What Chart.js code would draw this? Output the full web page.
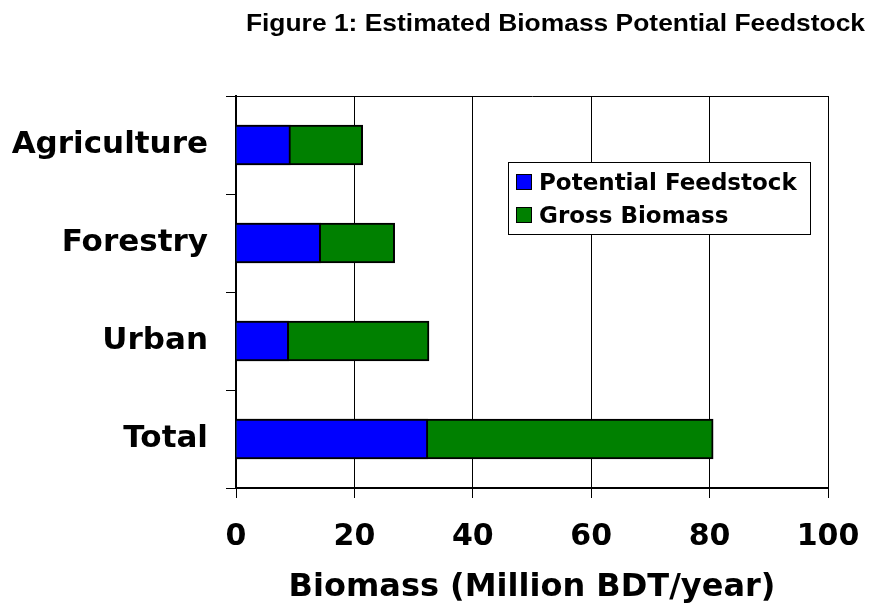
<!DOCTYPE html>
<html>
<head>
<meta charset="utf-8">
<script src="https://cdn.jsdelivr.net/npm/chart.js@4.4.0/dist/chart.umd.min.js"></script>
<style>
  html, body { margin: 0; padding: 0; background: #fff; }
  #wrap { width: 871px; height: 604px; }
</style>
</head>
<body>
<div id="wrap"><canvas id="biomassChart"></canvas></div>
<script>
// values (Million BDT/year)
const categories = ['Agriculture', 'Forestry', 'Urban', 'Total'];
const potentialFeedstock = [9.2, 14.3, 8.9, 32.4];
const grossBiomass = [21.4, 26.8, 32.6, 80.6];
const xTicks = [0, 20, 40, 60, 80, 100];

const labelFont = '"DejaVu Sans", Verdana, sans-serif';

// title + boxed legend drawn by hand so they sit where the original has them
const titleAndLegend = {
  id: 'titleAndLegend',
  afterDraw(chart) {
    const ctx = chart.ctx;
    ctx.save();
    ctx.fillStyle = '#000';
    ctx.font = 'bold 24px "Liberation Sans", Arial, sans-serif';
    ctx.textAlign = 'right';
    ctx.textBaseline = 'alphabetic';
    ctx.scale(1.1, 1);
    ctx.fillText('Figure 1: Estimated Biomass Potential Feedstock', 865 / 1.1, 31);
    ctx.restore();

    ctx.save();
    ctx.fillStyle = '#fff';
    ctx.fillRect(508, 162, 302, 72);
    ctx.strokeStyle = '#000';
    ctx.lineWidth = 1;
    ctx.strokeRect(508.5, 162.5, 302, 72);
    ctx.font = 'bold 23px ' + labelFont;
    ctx.textAlign = 'left';
    chart.data.datasets.forEach((ds, i) => {
      const y = 174 + i * 33;
      ctx.fillStyle = ds.backgroundColor;
      ctx.fillRect(516, y, 16, 16);
      ctx.strokeRect(516.5, y + 0.5, 15, 15);
      ctx.fillStyle = '#000';
      ctx.fillText(ds.label, 539, y + 16);
    });
    ctx.restore();
  }
};

new Chart(document.getElementById('biomassChart'), {
  type: 'bar',
  data: {
    labels: categories,
    datasets: [
      {
        label: 'Potential Feedstock',
        data: potentialFeedstock,
        backgroundColor: '#0000ff',
        borderColor: '#000',
        borderWidth: 2,
        barThickness: 40
      },
      {
        label: 'Gross Biomass',
        data: grossBiomass,
        backgroundColor: '#008000',
        borderColor: '#000',
        borderWidth: 2,
        barThickness: 40
      }
    ]
  },
  options: {
    indexAxis: 'y',
    responsive: true,
    maintainAspectRatio: false,
    animation: false,
    layout: { padding: { top: 96, right: 43, left: 0, bottom: 0 } },
    plugins: {
      legend: { display: false },
      title: { display: false },
      tooltip: { enabled: false }
    },
    scales: {
      y: {
        stacked: true,
        grid: {
          offset: true,
          color: c => c.index === 0 ? '#000' : 'rgba(0,0,0,0)',
          tickColor: '#000',
          tickLength: 10,
          lineWidth: 1
        },
        border: { color: '#000', width: 2 },
        ticks: {
          color: '#000',
          padding: 18,
          font: { family: labelFont, size: 31, weight: 'bold' }
        },
        afterFit: s => { s.width = 236; s.paddingTop = 0; s.paddingBottom = 0; }
      },
      x: {
        stacked: false,
        min: xTicks[0],
        max: xTicks[xTicks.length - 1],
        afterBuildTicks: s => { s.ticks = xTicks.map(v => ({ value: v })); },
        grid: { color: '#000', tickColor: '#000', tickLength: 10, lineWidth: 1 },
        border: { color: '#000', width: 2 },
        ticks: {
          color: '#000',
          padding: 21,
          maxRotation: 0,
          font: { family: labelFont, size: 30, weight: 'bold' }
        },
        title: {
          display: true,
          text: 'Biomass (Million BDT/year)',
          color: '#000',
          padding: 0,
          font: { family: labelFont, size: 32, weight: 'bold', lineHeight: 1 }
        },
        afterFit: s => { s.height = 116; s.paddingLeft = 0; s.paddingRight = 0; }
      }
    }
  },
  plugins: [titleAndLegend]
});
</script>
</body>
</html>
